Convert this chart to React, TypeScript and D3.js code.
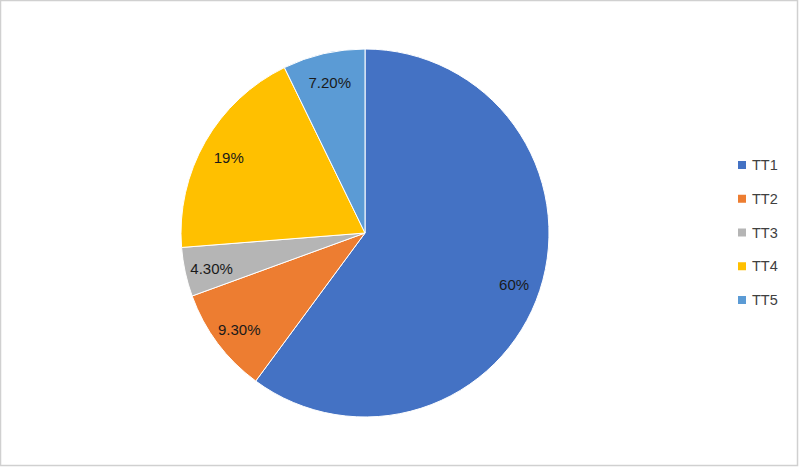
import React from "react";
import * as d3 from "d3";

const categories = ["TT1", "TT2", "TT3", "TT4", "TT5"];
const values = [60, 9.3, 4.3, 19, 7.2];
const labels = ["60%", "9.30%", "4.30%", "19%", "7.20%"];
const colors = ["#4472C4", "#ED7D31", "#B5B5B5", "#FFC000", "#5B9BD5"];

const W = 800;
const H = 467;

export default function App() {
  const cx = 365;
  const cy = 233;
  const r = 184;
  const pie = d3.pie<number>().sort(null).value((d) => d).startAngle(0).endAngle(2 * Math.PI);
  const arcs = pie(values);
  const arc = d3.arc<d3.PieArcDatum<number>>().innerRadius(0).outerRadius(r);
  const labelArc = d3.arc<d3.PieArcDatum<number>>().innerRadius(157).outerRadius(157);
  const legendY = d3.scalePoint<string>().domain(categories).range([165, 300]);

  return (
    <svg
      width={W}
      height={H}
      style={{ position: "absolute", left: 0, top: 0, fontFamily: "'Liberation Sans', Arial, sans-serif" }}
    >
      <rect x={0.5} y={0.5} width={W - 3} height={H - 2} fill="#fff" stroke="#d0d0d0" strokeWidth={1.5} />
      <g transform={`translate(${cx},${cy})`}>
        {arcs.map((a, i) => (
          <path key={i} d={arc(a) || ""} fill={colors[i]} stroke="#fff" strokeWidth={1} />
        ))}
        {arcs.map((a, i) => {
          const [x, y] = labelArc.centroid(a);
          return (
            <text key={i} x={x} y={y + 2} textAnchor="middle" dominantBaseline="central" fontSize={15} fill="#1a1a1a">
              {labels[i]}
            </text>
          );
        })}
      </g>
      {categories.map((c, i) => {
        const y = legendY(c) as number;
        return (
          <g key={c}>
            <rect x={738} y={y - 4} width={8} height={8} fill={colors[i]} />
            <text x={752} y={y} dominantBaseline="central" fontSize={14.5} fill="#404040">
              {c}
            </text>
          </g>
        );
      })}
    </svg>
  );
}
